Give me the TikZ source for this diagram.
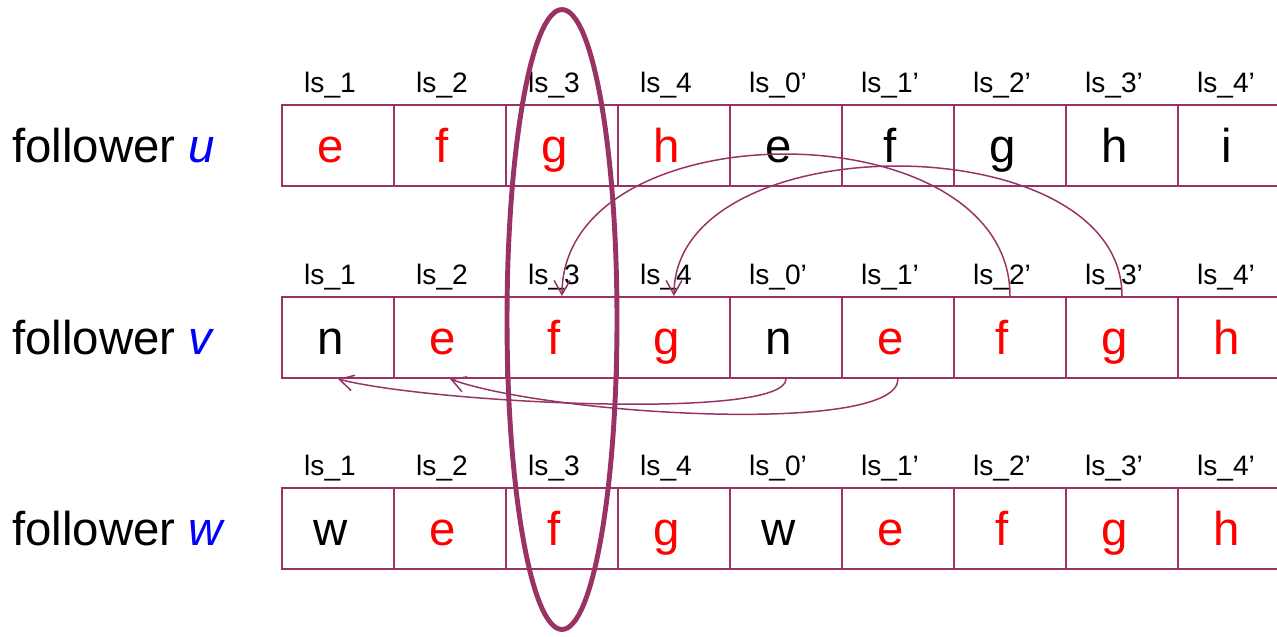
\documentclass[tikz,border=0pt]{standalone}
\usepackage{fontspec}
\setmainfont{Liberation Sans}
\usetikzlibrary{shapes.geometric, arrows.meta, positioning}
\definecolor{plum}{RGB}{153,51,102}

\begin{document}
\begin{tikzpicture}[
        x=0.02cm, y=-0.02cm,
        cell/.style={draw=plum, line width=1.1pt, minimum width=2.24cm, minimum height=1.62cm, inner sep=0pt, text height=19.8pt, text depth=0pt, font=\fontsize{27}{32}\selectfont, execute at end node={\kern0.3cm}},
        slot/.style={inner sep=0pt, outer sep=0pt, text depth=0pt, font=\fontsize{16}{19}\selectfont},
        follower/.style={anchor=west, inner sep=0pt, text height=19.8pt, text depth=0pt, font=\fontsize{27}{32}\selectfont},
        link/.style={plum, line width=0.85pt, -{Straight Barb[length=8pt, width=9pt]}},
        select/.style={draw=plum, line width=2.8pt, ellipse, minimum width=2.2cm, minimum height=12.4cm, inner sep=0pt}
    ]
        \useasboundingbox (0,0) rectangle (1277,636);

        % Followers
        \node (fu) [follower] at (12, 145.5) {follower \textcolor{blue}{\itshape u}};
        \node (fv) [follower] at (12, 337.5) {follower \textcolor{blue}{\itshape v}};
        \node (fw) [follower] at (12, 528.5) {follower \textcolor{blue}{\itshape w}};

        % Rows of slots
        \foreach \ch/\col [count=\i] in {e/red, f/red, g/red, h/red, e/black, f/black, g/black, h/black, i/black}
            \node (u\i) [cell] at (226+112*\i, 145.5) {\textcolor{\col}{\ch}};
        \foreach \ch/\col [count=\i] in {n/black, e/red, f/red, g/red, n/black, e/red, f/red, g/red, h/red}
            \node (v\i) [cell] at (226+112*\i, 337.5) {\textcolor{\col}{\ch}};
        \foreach \ch/\col [count=\i] in {w/black, e/red, f/red, g/red, w/black, e/red, f/red, g/red, h/red}
            \node (w\i) [cell] at (226+112*\i, 528.5) {\textcolor{\col}{\ch}};

        % Slot labels
        \foreach \r in {u,v,w}
            \foreach \lab [count=\i] in {ls\_1, ls\_2, ls\_3, ls\_4, ls\_0’, ls\_1’, ls\_2’, ls\_3’, ls\_4’}
                \node (l\r\i) [slot, above=6.5pt of \r\i, xshift=-0.16cm] {\lab};

        % Moves within follower v
        \draw [link] (v7.north) .. controls +(0,-189) and +(0,-189) .. (v3.north);
        \draw [link] (v8.north) .. controls +(0,-173) and +(0,-173) .. (v4.north);
        \draw [link] (v5.south) .. controls +(0,42) and +(92,24) .. (v1.south);
        \draw [link] (v6.south) .. controls +(0,57) and +(100,36) .. (v2.south);

        % Selected column
        \node (sel) [select] at (562, 319.5) {};
    \end{tikzpicture}
\end{document}
